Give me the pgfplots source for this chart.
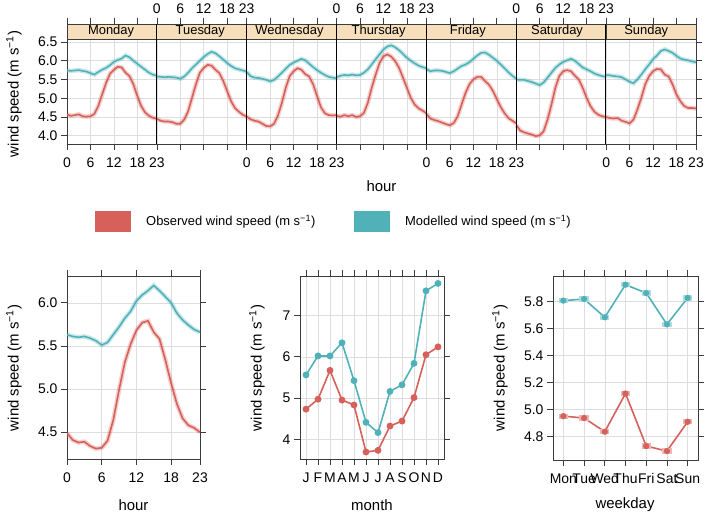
\documentclass[border=0pt]{standalone}
\usepackage{fontspec}
\setmainfont{Liberation Sans}
\usepackage{pgfplots}
\pgfplotsset{compat=1.18}
\usepackage{pgfplotstable}

\definecolor{obs}{RGB}{214,96,90}
\definecolor{mod}{RGB}{80,178,184}
\definecolor{stripc}{RGB}{246,223,186}
\definecolor{gridc}{RGB}{222,222,222}
\definecolor{framec}{RGB}{60,60,60}

% hour of day, one obs/mod pair per weekday (Mon=0 ... Sun=6)
\pgfplotstableread{
h  o0   m0   o1   m1   o2   m2   o3   m3   o4   m4   o5   m5   o6   m6
0  4.57 5.74 4.45 5.58 4.51 5.70 4.53 5.56 4.58 5.78 4.28 5.50 4.50 5.62
1  4.53 5.73 4.40 5.57 4.44 5.59 4.51 5.60 4.46 5.72 4.14 5.49 4.47 5.61
2  4.55 5.74 4.38 5.56 4.40 5.55 4.55 5.62 4.42 5.74 4.09 5.49 4.46 5.59
3  4.57 5.75 4.38 5.57 4.38 5.54 4.52 5.61 4.39 5.74 4.06 5.46 4.47 5.58
4  4.52 5.73 4.36 5.56 4.32 5.52 4.55 5.63 4.35 5.73 4.03 5.43 4.40 5.56
5  4.51 5.71 4.32 5.55 4.26 5.49 4.50 5.61 4.31 5.70 3.99 5.39 4.37 5.50
6  4.52 5.67 4.32 5.52 4.25 5.45 4.52 5.62 4.28 5.67 4.01 5.35 4.33 5.44
7  4.58 5.63 4.43 5.58 4.32 5.49 4.61 5.68 4.34 5.72 4.12 5.42 4.43 5.40
8  4.79 5.70 4.65 5.68 4.54 5.58 4.88 5.77 4.52 5.79 4.43 5.55 4.70 5.50
9  5.10 5.76 5.01 5.80 4.88 5.68 5.28 5.90 4.83 5.86 4.83 5.68 5.01 5.63
10 5.41 5.81 5.37 5.90 5.28 5.79 5.63 6.04 5.14 5.90 5.28 5.81 5.37 5.77
11 5.65 5.88 5.68 6.00 5.59 5.89 5.94 6.17 5.37 5.96 5.59 5.90 5.59 5.90
12 5.76 5.97 5.81 6.10 5.72 5.95 6.12 6.30 5.50 6.05 5.72 5.97 5.72 6.04
13 5.84 6.02 5.89 6.18 5.80 6.00 6.17 6.38 5.57 6.14 5.75 6.01 5.78 6.14
14 5.82 6.06 5.87 6.24 5.76 6.05 6.11 6.41 5.57 6.21 5.72 6.05 5.77 6.26
15 5.68 6.14 5.76 6.20 5.64 6.01 5.99 6.36 5.46 6.22 5.60 6.00 5.63 6.30
16 5.59 6.09 5.67 6.12 5.58 5.92 5.81 6.28 5.36 6.16 5.50 5.91 5.58 6.26
17 5.37 6.00 5.46 6.03 5.37 5.83 5.55 6.18 5.20 6.08 5.28 5.82 5.37 6.21
18 5.06 5.92 5.19 5.94 5.06 5.75 5.28 6.08 4.98 6.00 5.01 5.77 5.10 6.13
19 4.79 5.84 4.92 5.86 4.76 5.68 5.01 6.00 4.77 5.90 4.79 5.72 4.92 6.06
20 4.62 5.76 4.74 5.80 4.60 5.62 4.83 5.93 4.60 5.80 4.64 5.66 4.79 6.03
21 4.53 5.68 4.64 5.77 4.55 5.57 4.73 5.87 4.47 5.69 4.56 5.62 4.74 6.01
22 4.48 5.63 4.56 5.74 4.54 5.55 4.67 5.83 4.40 5.60 4.52 5.59 4.74 5.98
23 4.45 5.60 4.51 5.71 4.55 5.53 4.60 5.80 4.33 5.52 4.50 5.57 4.73 5.96
}\week

\pgfplotstableread{
h  o    m
0  4.49 5.63
1  4.41 5.61
2  4.38 5.60
3  4.39 5.61
4  4.34 5.59
5  4.31 5.56
6  4.32 5.51
7  4.40 5.54
8  4.64 5.63
9  4.99 5.72
10 5.31 5.82
11 5.52 5.90
12 5.68 6.02
13 5.77 6.09
14 5.79 6.14
15 5.66 6.20
16 5.58 6.14
17 5.34 6.07
18 5.07 6.00
19 4.83 5.88
20 4.66 5.80
21 4.58 5.74
22 4.55 5.69
23 4.50 5.66
}\hourly

\pgfplotstableread{
mon o    m
1   4.73 5.56
2   4.97 6.02
3   5.67 6.02
4   4.95 6.34
5   4.83 5.42
6   3.69 4.41
7   3.73 4.16
8   4.32 5.16
9   4.44 5.32
10  5.01 5.84
11  6.05 7.60
12  6.24 7.78
}\monthly

\pgfplotstableread{
d o     m
1 4.952 5.805
2 4.938 5.817
3 4.837 5.682
4 5.119 5.923
5 4.731 5.861
6 4.694 5.630
7 4.910 5.825
}\wkday

\pgfplotsset{
  tv/.style={
    scale only axis, anchor=south west,
    tick align=outside, major tick length=6bp,
    tick style={framec, line width=0.6bp},
    axis line style={framec, line width=0.8bp},
    grid=major, grid style={gridc, line width=0.5bp},
    tick label style={font=\fontsize{14}{16}\selectfont},
    xticklabel style={yshift=-4bp},
    /pgf/number format/assume math mode=true,
  },
  obsline/.style={obs, line width=1.6bp, preaction={draw=obs, draw opacity=0.3, line width=4.5bp}},
  modline/.style={mod, line width=1.6bp, preaction={draw=mod, draw opacity=0.3, line width=4.5bp}},
  ci/.style={only marks, forget plot, mark=square*, mark size=2.1bp,
    mark options={xscale=2, color=#1!45, line width=0pt}},
}

\newcommand{\wsl}{wind speed (m s\textsuperscript{−1})}

\begin{document}
\begin{tikzpicture}
\useasboundingbox (0,0) rectangle (705bp,514bp);

% ---- top: hour by weekday ----
\begin{axis}[tv,
  at={(67bp,370bp)}, width=629bp, height=120bp,
  xmin=0, xmax=161, ymin=3.78, ymax=6.98,
  ytick={4,4.5,5,5.5,6,6.5},
  yticklabel style={/pgf/number format/.cd, fixed, fixed zerofill, precision=1},
  xtick={0,6,12,18,23,29,35,41,46,52,58,64,69,75,81,87,92,98,104,110,115,121,127,133,138,144,150,156,161},
  xticklabels={0,6,12,18,23,{},{},{},0,6,12,18,23,{},{},{},0,6,12,18,23,{},{},{},0,6,12,18,23},
  xticklabel pos=bottom, yticklabel pos=left,
]
\pgfplotsinvokeforeach{0,...,6}{
  \addplot[modline] table[x expr=\thisrow{h}+23*#1, y=m#1] {\week};
  \addplot[obsline] table[x expr=\thisrow{h}+23*#1, y=o#1] {\week};
}
\end{axis}
% top tick labels for Tue, Thu, Sat
\begin{axis}[scale only axis, anchor=south west,
  at={(67bp,370bp)}, width=629bp, height=120bp,
  xmin=0, xmax=161, ymin=0, ymax=1,
  hide y axis, axis x line*=top, x axis line style={draw=none},
  major tick length=6bp, xtick style={draw=none},
  tick label style={font=\fontsize{14}{16}\selectfont},
  xticklabel style={yshift=7bp},
  /pgf/number format/assume math mode=true,
  xtick={23,29,35,41,46,69,75,81,87,92,115,121,127,133,138},
  xticklabels={0,6,12,18,23,0,6,12,18,23,0,6,12,18,23},
]
\end{axis}
% strips and panel separators
\foreach \d/\name in {0/Monday,1/Tuesday,2/Wednesday,3/Thursday,4/Friday,5/Saturday,6/Sunday}{
  \pgfmathsetmacro{\xa}{67+89.857*\d}
  \pgfmathsetmacro{\xb}{67+89.857*(\d+1)}
  \filldraw[fill=stripc, draw=framec, line width=0.8bp] (\xa bp,475bp) rectangle (\xb bp,490bp);
  \node[font=\fontsize{13}{15}\selectfont] at ({(\xa+\xb)/2 bp},482.5bp) {\name};
}
\foreach \d in {1,...,6}{
  \draw[black, line width=0.9bp] ({67+89.857*\d bp},370bp) -- ({67+89.857*\d bp},490bp);
}
\node[font=\fontsize{15}{17}\selectfont] at (381.5bp,328bp) {hour};
\node[font=\fontsize{15}{17}\selectfont, rotate=90] at (14bp,420bp) {\wsl};

% ---- legend ----
\fill[obs] (95bp,282bp) rectangle (131bp,303bp);
\node[anchor=west, font=\fontsize{13}{15}\selectfont, inner sep=0pt] at (146bp,292.5bp) {Observed wind speed (m s\textsuperscript{−1})};
\fill[mod] (354bp,282bp) rectangle (390bp,303bp);
\node[anchor=west, font=\fontsize{13}{15}\selectfont, inner sep=0pt] at (405bp,292.5bp) {Modelled wind speed (m s\textsuperscript{−1})};

% ---- bottom left: hour ----
\begin{axis}[tv,
  at={(67bp,55bp)}, width=133bp, height=183bp,
  xmin=0, xmax=23, ymin=4.19, ymax=6.31,
  xtick={0,6,12,18,23}, ytick={4.5,5,5.5,6},
  yticklabel style={/pgf/number format/.cd, fixed, fixed zerofill, precision=1},
  xticklabel pos=bottom, yticklabel pos=left,
]
\addplot[modline] table[x=h, y=m] {\hourly};
\addplot[obsline] table[x=h, y=o] {\hourly};
\end{axis}
\node[font=\fontsize{15}{17}\selectfont] at (133.5bp,9bp) {hour};
\node[font=\fontsize{15}{17}\selectfont, rotate=90] at (14bp,146bp) {\wsl};

% ---- bottom middle: month ----
\begin{axis}[tv,
  at={(300bp,55bp)}, width=144bp, height=183bp,
  xmin=0.5, xmax=12.5, ymin=3.52, ymax=7.96,
  xtick={1,...,12}, xticklabels={J,F,M,A,M,J,J,A,S,O,N,D},
  ytick={4,5,6,7},
  xticklabel pos=bottom, yticklabel pos=left,
]
\addplot[mod, line width=1.6bp, mark=*, mark size=2.6bp] table[x=mon, y=m] {\monthly};
\addplot[obs, line width=1.6bp, mark=*, mark size=2.6bp] table[x=mon, y=o] {\monthly};
\end{axis}
\node[font=\fontsize{15}{17}\selectfont] at (372bp,9bp) {month};
\node[font=\fontsize{15}{17}\selectfont, rotate=90] at (257bp,146bp) {\wsl};

% ---- bottom right: weekday ----
\begin{axis}[tv,
  at={(553bp,54bp)}, width=145bp, height=184bp,
  xmin=0.5, xmax=7.5, ymin=4.628, ymax=5.987,
  xtick={1,...,7}, xticklabels={Mon,Tue,Wed,Thu,Fri,Sat,Sun},
  ytick={4.8,5.0,5.2,5.4,5.6,5.8},
  yticklabel style={/pgf/number format/.cd, fixed, fixed zerofill, precision=1},
  xticklabel pos=bottom, yticklabel pos=left,
]
\addplot[ci=mod] table[x=d, y=m] {\wkday};
\addplot[ci=obs] table[x=d, y=o] {\wkday};
\addplot[mod, line width=1.6bp, mark=*, mark size=2.3bp] table[x=d, y=m] {\wkday};
\addplot[obs, line width=1.6bp, mark=*, mark size=2.3bp] table[x=d, y=o] {\wkday};
\end{axis}
\node[font=\fontsize{15}{17}\selectfont] at (625bp,9bp) {weekday};
\node[font=\fontsize{15}{17}\selectfont, rotate=90] at (500bp,146bp) {\wsl};
\end{tikzpicture}
\end{document}
